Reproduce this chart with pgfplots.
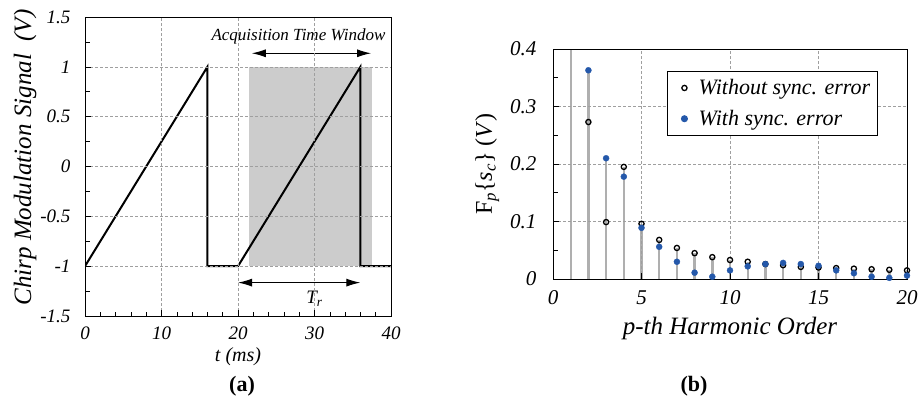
\documentclass[border=0pt]{standalone}
\usepackage{fontspec}
\setmainfont{Liberation Serif}
\usepackage{pgfplots}
\pgfplotsset{compat=1.18}
\usetikzlibrary{arrows.meta}
\definecolor{myblue}{RGB}{36,88,170}
\definecolor{stemgray}{RGB}{175,175,175}
\definecolor{fillgray}{RGB}{204,204,204}
\pgfplotstableread{
p v
1 0.6
2 0.273
3 0.099
4 0.195
5 0.096
6 0.068
7 0.054
8 0.045
9 0.038
10 0.033
11 0.030
12 0.026
13 0.024
14 0.021
15 0.020
16 0.019
17 0.018
18 0.017
19 0.016
20 0.015
}\without
\pgfplotstableread{
p v
2 0.363
3 0.210
4 0.178
5 0.089
6 0.056
7 0.030
8 0.011
9 0.004
10 0.015
11 0.022
12 0.026
13 0.028
14 0.026
15 0.023
16 0.015
17 0.010
18 0.004
19 0.002
20 0.006
}\withsync
\begin{document}
\begin{tikzpicture}
\useasboundingbox (0,0) rectangle (923pt,408pt);
\pgfplotsset{
  common/.style={
    scale only axis, anchor=south west,
    axis on top,
    axis line style={line width=0.9pt},
    grid=major,
    major grid style={densely dashed, gray!75, line width=0.5pt},
    xtick pos=bottom, ytick pos=left,
    tick align=inside,
    major tick length=6pt, minor tick length=4.5pt,
    every tick/.style={black, line width=0.6pt},
  }
}
\begin{axis}[common,
  at={(85pt,92pt)}, width=306pt, height=299pt,
  xmin=0, xmax=40, ymin=-1.5, ymax=1.5,
  xtick={0,10,20,30,40},
  xticklabels={0,10,20,30,40},
  ytick={-1.5,-1,-0.5,0,0.5,1,1.5},
  yticklabels={-1.5,-1,-0.5,0,0.5,1,1.5},
  minor xtick={2,4,6,8,12,14,16,18,22,24,26,28,32,34,36,38},
  minor ytick={-1.25,-0.75,-0.25,0.25,0.75,1.25},
  tick label style={font=\itshape\fontsize{19}{21}\selectfont},
  xticklabel style={yshift=-7pt},
  yticklabel style={xshift=-11pt},
  xlabel={\textit{t} (\textit{ms})},
  ylabel={Chirp Modulation Signal\ \ (\textit{V})},
  xlabel style={font=\itshape\fontsize{20}{22}\selectfont, at={(axis description cs:0.5,-0.137)}, anchor=center},
  ylabel style={font=\itshape\fontsize{25}{28}\selectfont, at={(axis description cs:-0.196,0.53)}, anchor=center},
]
\addplot[fill=fillgray, draw=none] coordinates {(21.5,-1) (37.5,-1) (37.5,1) (21.5,1)} -- cycle;
\addplot[black, line width=2pt, line join=miter] coordinates {
(0,-1) (16,1) (16,-1) (20,-1) (36,1) (36,-1) (40,-1)};
\draw[{Latex[length=14pt,width=8pt]}-{Latex[length=14pt,width=8pt]}, line width=1.1pt] (axis cs:21.8,1.136) -- (axis cs:37.4,1.136);
\draw[{Latex[length=14pt,width=8pt]}-{Latex[length=14pt,width=8pt]}, line width=1.1pt] (axis cs:20,-1.165) -- (axis cs:36,-1.165);
\node[font=\itshape\fontsize{17}{19}\selectfont] at (axis cs:27.9,1.31) {Acquisition Time Window};
\node[font=\itshape\fontsize{19}{21}\selectfont] at (axis cs:30,-1.33) {T\textsubscript{r}};
\end{axis}
\begin{axis}[common,
  at={(553pt,129pt)}, width=354pt, height=230pt,
  xmin=0, xmax=20, ymin=0, ymax=0.4,
  xtick={0,5,10,15,20},
  xticklabels={0,5,10,15,20},
  ytick={0,0.1,0.2,0.3,0.4},
  yticklabels={0,0.1,0.2,0.3,0.4},
  minor ytick={0.05,0.15,0.25,0.35},
  tick label style={font=\itshape\fontsize{21}{23}\selectfont},
  xticklabel style={yshift=-8pt},
  yticklabel style={xshift=-13pt},
  xlabel={p-th Harmonic Order},
  ylabel={\upshape F\textsubscript{\itshape p}\{\textit{s}\textsubscript{\itshape c}\} (\textit{V})},
  xlabel style={font=\itshape\fontsize{25}{28}\selectfont, at={(axis description cs:0.5,-0.213)}, anchor=center},
  ylabel style={font=\fontsize{24}{27}\selectfont, at={(axis description cs:-0.186,0.5)}, anchor=center},
  legend style={at={(0.322,0.904)}, anchor=north west, draw=black, line width=1pt,
    font=\itshape\fontsize{22}{24}\selectfont, inner xsep=5pt, inner ysep=6pt,
    row sep=10pt},
  legend image code/.code={\path[draw=none,fill=none] (0cm,0cm) -- (0.85cm,0cm); \draw[#1] plot coordinates {(0.42cm,0cm)};},
  legend cell align=left,
]
\addplot[ycomb, stemgray, line width=2.4pt, forget plot] table[x=p,y=v] {\without};
\addplot[ycomb, stemgray, line width=2.4pt, forget plot] table[x=p,y=v] {\withsync};
\addplot[only marks, mark=o, mark size=2.6pt, line width=1.3pt, black] table[x=p,y=v] {\without};
\addlegendentry{Without sync. error}
\addplot[only marks, mark=*, mark size=3pt, myblue] table[x=p,y=v] {\withsync};
\addlegendentry{With sync. error}
\end{axis}
\node[font=\bfseries\fontsize{22}{24}\selectfont] at (242pt,22pt) {(a)};
\node[font=\bfseries\fontsize{22}{24}\selectfont] at (694pt,22pt) {(b)};
\end{tikzpicture}
\end{document}
